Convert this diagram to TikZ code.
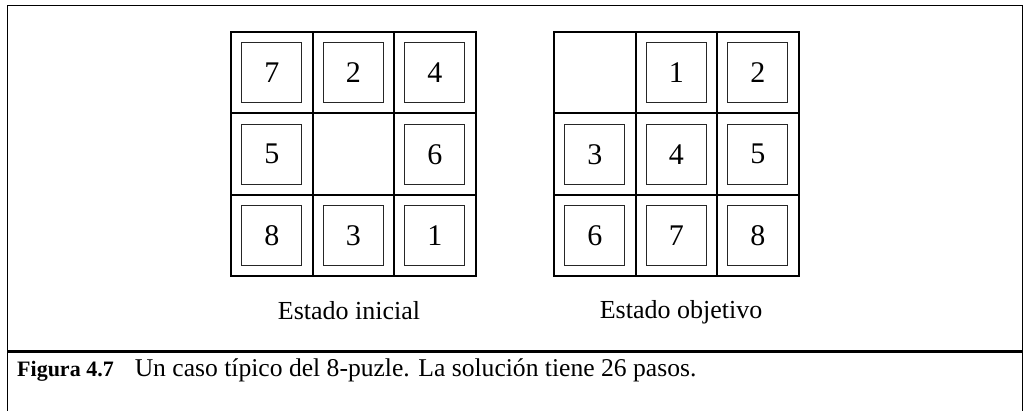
\documentclass[tikz,border=0pt]{standalone}
\usepackage{fontspec}
\setmainfont{Liberation Serif}
\usetikzlibrary{positioning}

\begin{document}
\begin{tikzpicture}[
    x=1pt, y=1pt,
    cell/.style={draw, line width=2pt, minimum size=81.5pt, inner sep=0pt, outer sep=0pt},
    tile/.style={draw, line width=0.8pt, black!85, text=black, minimum size=60pt, inner sep=0pt, font=\fontsize{30}{32}\selectfont},
    statelabel/.style={anchor=base, inner sep=0pt, font=\fontsize{26}{28}\selectfont},
    frame/.style={line width=1pt},
  ]
    \useasboundingbox (0,0) rectangle (1027,411);

    % grids
    \foreach \r in {1,2,3} {
      \foreach \c in {1,2,3} {
        \node[cell] (ini-\r\c) at ({231+(\c-0.5)*81.5},{379-(\r-0.5)*81.5}) {};
        \node[cell] (obj-\r\c) at ({554+(\c-0.5)*81.5},{379-(\r-0.5)*81.5}) {};
      }
    }

    % tiles
    \foreach \p/\n in {11/7, 12/2, 13/4, 21/5, 23/6, 31/8, 32/3, 33/1}
      \node[tile] (ini-t\p) at (ini-\p) {\n};
    \foreach \p/\n in {12/1, 13/2, 21/3, 22/4, 23/5, 31/6, 32/7, 33/8}
      \node[tile] (obj-t\p) at (obj-\p) {\n};

    \node[statelabel] (lab-ini) at (349,91) {Estado inicial};
    \node[statelabel] (lab-obj) at (681,92) {Estado objetivo};

    % frame and caption
    \draw[frame] (7,0) |- (1022,405) -- (1022,0);
    \draw[line width=3pt] (7,59) -- (1022,59);
    \node[anchor=base west, inner sep=0pt, font=\fontsize{25.6}{28}\selectfont] (caption) at (17,34)
      {{\fontsize{22}{24}\selectfont\bfseries Figura 4.7}\hspace{21pt}Un caso típico del 8-puzle. La solución tiene 26 pasos.};
  \end{tikzpicture}
\end{document}
